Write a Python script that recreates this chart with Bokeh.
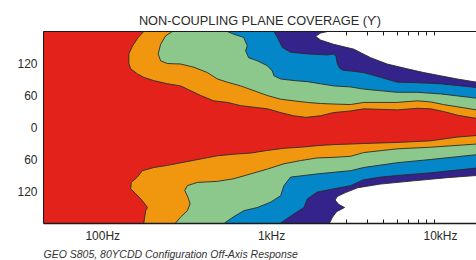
import math
from bokeh.plotting import figure
from bokeh.models import (ColumnDataSource, FixedTicker, LogAxis, Title,
                          CustomJSTickFormatter, Range1d)
from bokeh.embed import file_html
from bokeh.resources import INLINE

# ---------------- data: contour boundaries (frequency Hz, angle deg) ----------
# level 1: red / orange boundary
c1_up_f = [192, 190, 175, 163, 155, 155, 159, 175, 190, 217, 262, 314, 360, 413, 492, 596,
           711, 849, 1027, 1227, 1465, 1725, 2115, 2526, 3184, 3802, 6040, 7931, 9470,
           11305, 13683, 17726, 21450]
c1_up_deg = [187, 180, 168, 153, 138, 120, 110, 100, 94, 88, 82, 78, 69, 60, 50, 47,
             41, 38, 35, 28, 22, 19, 22, 28, 31, 35, 33, 36, 35,
             30, 23, 17, 13]
c1_lo_f = [190, 190, 195, 200, 186, 170, 159, 160, 174, 186, 218, 262, 329, 413, 518, 649,
           815, 1023, 1283, 1611, 2022, 2536, 3184, 3802, 6015, 9470, 13626, 17726, 21450]
c1_lo_deg = [-186, -179, -156, -150, -137, -124, -115, -103, -93, -81, -75, -71, -65, -59,
             -53, -50, -48, -43, -39, -37, -34, -32, -31, -30, -28, -25, -18, -15, -13]

# level 2: orange / green boundary
c2_up_f = [282, 281, 256, 239, 231, 239, 262, 314, 376, 452, 518, 593, 711, 853, 1023,
           1227, 1471, 1765, 2115, 2536, 3184, 3802, 6015, 7898, 9470, 11305, 14847,
           17726, 21450]
c2_up_deg = [187, 180, 172, 156, 138, 125, 120, 119, 113, 103, 91, 85, 78, 69, 60,
             53, 50, 47, 45, 44, 43, 47, 47, 50, 48, 43, 37,
             33, 30]
c2_lo_f = [293, 293, 314, 344, 357, 347, 332, 344, 394, 518, 649, 815, 1023, 1283, 1611,
           2022, 2536, 3184, 3802, 6015, 9470, 17726, 21450]
c2_lo_deg = [-186, -179, -168, -156, -143, -131, -118, -109, -103, -101, -96, -87, -78,
             -68, -62, -57, -56, -54, -47, -40, -37, -31, -29]

# level 3: green / blue boundary
c3_up_f = [596, 593, 647, 741, 779, 761, 793, 893, 1023, 1096, 1120, 1227, 1471, 1765,
           2115, 2536, 3184, 3802, 6015, 7898, 10852, 17726, 21450]
c3_up_deg = [187, 180, 175, 169, 153, 144, 131, 125, 116, 106, 97, 91, 88, 86,
             82, 78, 76, 72, 66, 66, 63, 55, 52]
c3_lo_f = [572, 572, 649, 744, 893, 1071, 1227, 1283, 1406, 1685, 2022, 2536, 3184, 3802,
           6015, 9470, 17726, 21450]
c3_lo_deg = [-186, -179, -167, -156, -150, -140, -128, -109, -93, -90, -87, -84, -81, -75,
             -66, -60, -51, -48]

# level 4: blue / dark blue boundary
c4_up_f = [1123, 1120, 1173, 1256, 1406, 1765, 2318, 2526, 2613, 2649, 2741, 2894, 3184,
           3802, 4792, 6015, 7898, 10852, 17726, 21450]
c4_up_deg = [187, 180, 169, 150, 141, 138, 136, 138, 133, 121, 111, 107, 106,
             103, 94, 85, 84, 82, 75, 73]
c4_lo_f = [1227, 1227, 1471, 1685, 1765, 2022, 2536, 3184, 3802, 4792, 6015, 9470, 17726,
           21450]
c4_lo_deg = [-186, -179, -162, -150, -134, -121, -115, -109, -98, -93, -90, -85, -76, -74]

# level 5: dark blue / white boundary
c5_up_f = [2328, 2328, 2115, 1976, 2115, 2526, 3317, 4181, 5250, 6894, 8644, 10852, 13626,
           17726, 21450]
c5_up_deg = [187, 180, 177, 171, 164, 156, 147, 131, 119, 110, 103, 97, 91, 85, 82]
c5_lo_f = [2392, 2392, 2491, 2631, 2934, 2704, 2577, 2667, 2974, 3503, 4792, 7512, 11936,
           17726, 21450]
c5_lo_deg = [-186, -179, -168, -158, -150, -144, -136, -129, -122, -113, -106, -100, -94,
             -90, -89]

# axis ticks / labels
y_ticks = [-120, -60, 0, 60, 120]
x_ticks = [100, 1000, 10000]
x_tick_labels = ["100Hz", "1kHz", "10kHz"]
x_minor_ticks = [3000, 4000, 5000, 6000, 7000, 8000, 9000, 10000]

TITLE = "NON-COUPLING PLANE COVERAGE (\u03d2)"
CAPTION = "GEO S805, 80\u03d2CDD Configuration Off-Axis Response"

# ---------------- styling ----------------
RED = "#E3231B"
ORANGE = "#F0970F"
GREEN = "#8CC78B"
BLUE = "#0487C9"
DARK = "#33238A"
WHITE = "#FFFFFF"
level_colors = [ORANGE, GREEN, BLUE, DARK, WHITE]
TEXT = "#2a2a2a"
FONT = "Liberation Sans"

X_START, X_END = 48.4, 17726
FRAME_W = 433
LABEL_SHIFT_PX = 6          # the reference prints its frequency labels a little right of the ticks
_dec_per_px = (math.log10(X_END) - math.log10(X_START)) / FRAME_W
_k = 10 ** (LABEL_SHIFT_PX * _dec_per_px)

up_f = [c1_up_f, c2_up_f, c3_up_f, c4_up_f, c5_up_f]
up_deg = [c1_up_deg, c2_up_deg, c3_up_deg, c4_up_deg, c5_up_deg]
lo_f = [c1_lo_f, c2_lo_f, c3_lo_f, c4_lo_f, c5_lo_f]
lo_deg = [c1_lo_deg, c2_lo_deg, c3_lo_deg, c4_lo_deg, c5_lo_deg]

xs, ys, cols = [], [], []
FAR = 30000
for k in range(5):
    for f, d, edge in ((up_f[k], up_deg[k], 200), (lo_f[k], lo_deg[k], -200)):
        xs.append(list(f) + [FAR, FAR, f[0]])
        ys.append(list(d) + [d[-1], edge, edge])
        cols.append(level_colors[k])
src = ColumnDataSource(dict(xs=xs, ys=ys, color=cols))

p = figure(width=476, height=260, x_axis_type="log",
           x_range=(X_START, X_END), y_range=(-180, 180),
           output_backend="svg", toolbar_location=None,
           min_border_left=43, min_border_right=0, min_border_top=31,
           min_border_bottom=37, title=TITLE)
p.extra_x_ranges = {"lab": Range1d(X_START / _k, X_END / _k)}
p.background_fill_color = RED
p.border_fill_color = "white"
p.outline_line_color = None
p.grid.grid_line_color = None

p.title.align = "center"
p.title.text_font = FONT
p.title.text_font_size = "12.75px"
p.title.text_font_style = "normal"
p.title.text_color = TEXT
p.title.standoff = 7

p.patches("xs", "ys", source=src, fill_color="color", line_color="#2b2b2b",
          line_width=0.9)

# bottom axis (line + minor ticks)
xa = p.xaxis[0]
xa.ticker = FixedTicker(ticks=x_ticks, minor_ticks=x_minor_ticks)
xa.major_tick_in = 0
xa.major_tick_out = 0
xa.minor_tick_in = 4
xa.minor_tick_out = 0
xa.major_label_text_font_size = "1px"
xa.major_label_text_color = None
xa.major_label_standoff = 0
xa.axis_line_color = "#1a1a1a"
xa.axis_line_width = 1.3
xa.minor_tick_line_color = "#1a1a1a"

# bottom frequency labels
la = LogAxis(x_range_name="lab", ticker=FixedTicker(ticks=x_ticks),
             major_label_overrides={t: s for t, s in zip(x_ticks, x_tick_labels)},
             major_tick_in=0, major_tick_out=0, minor_tick_in=0, minor_tick_out=0,
             axis_line_color=None, major_tick_line_color=None,
             minor_tick_line_color=None, major_label_standoff=5,
             major_label_text_font=FONT, major_label_text_font_size="12px",
             major_label_text_color=TEXT)
p.add_layout(la, "below")

# caption
p.add_layout(Title(text=CAPTION, align="left", text_font=FONT,
                   text_font_style="italic", text_font_size="10.5px",
                   text_color="#333333", standoff=1), "below")

# top axis
ta = LogAxis(ticker=FixedTicker(ticks=x_ticks, minor_ticks=x_minor_ticks),
             major_tick_in=0, major_tick_out=0, minor_tick_in=4, minor_tick_out=0,
             major_label_text_font_size="1px", major_label_text_color=None,
             major_label_standoff=0,
             axis_line_color="#1a1a1a", axis_line_width=1.1,
             minor_tick_line_color="#1a1a1a")
p.add_layout(ta, "above")

# left axis
ya = p.yaxis[0]
ya.ticker = FixedTicker(ticks=y_ticks)
ya.formatter = CustomJSTickFormatter(code="return String(Math.abs(tick));")
ya.major_tick_in = 0
ya.major_tick_out = 0
ya.minor_tick_in = 0
ya.minor_tick_out = 0
ya.major_label_standoff = 6
ya.major_label_text_font = FONT
ya.major_label_text_font_size = "12px"
ya.major_label_text_color = TEXT
ya.axis_line_color = "#1a1a1a"
ya.axis_line_width = 1.1

open("out.html", "w").write(file_html(p, INLINE))
